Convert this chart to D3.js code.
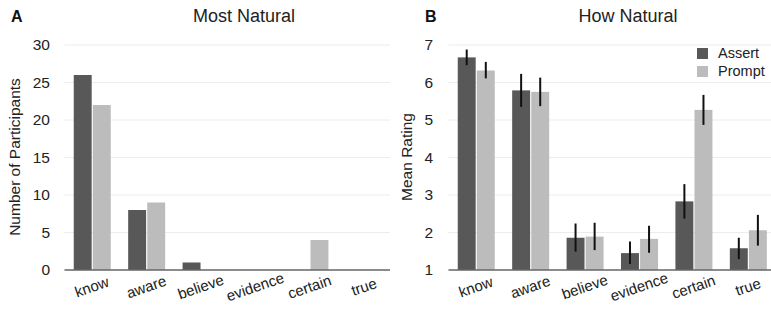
<!DOCTYPE html>
<html><head><meta charset="utf-8">
<script src="https://cdn.jsdelivr.net/npm/d3@7"></script>
<style>body{margin:0;background:#fff;} text{font-family:"Liberation Sans",Arial,sans-serif;}</style>
</head><body><svg id="c" width="771" height="322"></svg>
<script>
const categories = ["know","aware","believe","evidence","certain","true"];
const seriesNames = ["Assert","Prompt"];
// Panel A: number of participants choosing "most natural"
const countAssert = [26, 8, 1, 0, 0, 0];
const countPrompt = [22, 9, 0, 0, 4, 0];
// Panel B: mean rating with error bar bounds
const meanAssert = [6.67, 5.79, 1.86, 1.45, 2.83, 1.58];
const meanPrompt = [6.32, 5.75, 1.89, 1.83, 5.27, 2.06];
const errLoAssert = [6.46, 5.35, 1.49, 1.16, 2.37, 1.29];
const errHiAssert = [6.88, 6.23, 2.24, 1.76, 3.29, 1.86];
const errLoPrompt = [6.11, 5.37, 1.53, 1.46, 4.87, 1.65];
const errHiPrompt = [6.55, 6.13, 2.26, 2.18, 5.67, 2.47];
const ticksA = [0,5,10,15,20,25,30];
const ticksB = [1,2,3,4,5,6,7];

const colors = {Assert:"#585858", Prompt:"#bcbcbc"};
const svg = d3.select("#c");

function panel(opt){
  const g = svg.append("g");
  const x = d3.scaleBand().domain(categories).range([opt.x0, opt.x0 + 6*54.6]).paddingInner(0.32).paddingOuter(0.17);
  const xs = d3.scaleBand().domain(seriesNames).range([0, x.bandwidth()]).paddingInner(0.06);
  const y = d3.scaleLinear().domain(opt.domain).range([270, 45]);
  // gridlines
  g.append("g").selectAll("line").data(opt.ticks.slice(1)).join("line")
    .attr("x1", opt.x0).attr("x2", opt.x1).attr("y1", d=>y(d)).attr("y2", d=>y(d))
    .attr("stroke","#ececec").attr("stroke-width",1);
  // y axis labels
  const ya = d3.axisLeft(y).tickValues(opt.ticks).tickSize(0).tickPadding(0).tickFormat(d3.format("d"));
  const yg = g.append("g").attr("transform",`translate(${opt.tickX},0)`).call(ya);
  yg.select(".domain").remove();
  yg.selectAll("text").attr("font-size",15.5).attr("fill","#222").attr("font-family","Liberation Sans, Arial, sans-serif");
  // bars
  const data = [];
  categories.forEach((c,i)=>{
    data.push({c, s:"Assert", v:opt.a[i], lo:opt.aLo?opt.aLo[i]:null, hi:opt.aHi?opt.aHi[i]:null});
    data.push({c, s:"Prompt", v:opt.p[i], lo:opt.pLo?opt.pLo[i]:null, hi:opt.pHi?opt.pHi[i]:null});
  });
  g.append("g").selectAll("rect").data(data.filter(d=>d.v>opt.domain[0])).join("rect")
    .attr("x", d=>x(d.c)+xs(d.s)).attr("width", xs.bandwidth())
    .attr("y", d=>y(d.v)).attr("height", d=>270-y(d.v))
    .attr("fill", d=>colors[d.s]);
  if(opt.aLo){
    g.append("g").selectAll("line").data(data).join("line")
      .attr("x1", d=>x(d.c)+xs(d.s)+xs.bandwidth()/2).attr("x2", d=>x(d.c)+xs(d.s)+xs.bandwidth()/2)
      .attr("y1", d=>y(d.lo)).attr("y2", d=>y(d.hi))
      .attr("stroke","#111").attr("stroke-width",2);
  }
  // x axis line
  g.append("line").attr("x1",opt.x0).attr("x2",opt.x1).attr("y1",270).attr("y2",270)
    .attr("stroke","#666").attr("stroke-width",1.6);
  // x tick labels
  const xa = d3.axisBottom(x).tickSize(0).tickPadding(0);
  const xg = g.append("g").attr("transform","translate(0,270)").call(xa);
  xg.select(".domain").remove();
  xg.selectAll("text").attr("font-size",15).attr("fill","#222")
    .attr("font-family","Liberation Sans, Arial, sans-serif")
    .attr("text-anchor","middle").attr("dy",null).attr("y",0)
    .attr("transform","translate(0,18) rotate(-19)").attr("dominant-baseline","middle");
  // y label
  g.append("text").attr("transform",`translate(${opt.labelX},157) rotate(-90)`)
    .attr("text-anchor","middle").attr("font-size",15.5).attr("fill","#222").text(opt.yLabel);
  // title
  g.append("text").attr("x",opt.titleX).attr("y",22).attr("text-anchor","middle")
    .attr("font-size",18).attr("fill","#222").text(opt.title);
  g.append("text").attr("x",opt.letterX).attr("y",22).attr("font-size",16)
    .attr("font-weight","bold").attr("fill","#111").text(opt.letter);
  return {x,y,g};
}

panel({x0:64.5, x1:390, domain:[0,30], ticks:ticksA, a:countAssert, p:countPrompt,
  tickX:50, labelX:20, yLabel:"Number of Participants", title:"Most Natural", titleX:244, letter:"A", letterX:11});
panel({x0:448.5, x1:771, domain:[1,7], ticks:ticksB, a:meanAssert, p:meanPrompt,
  aLo:errLoAssert, aHi:errHiAssert, pLo:errLoPrompt, pHi:errHiPrompt,
  tickX:433, labelX:412, yLabel:"Mean Rating", title:"How Natural", titleX:628, letter:"B", letterX:425});

// legend
const lg = svg.append("g").attr("transform","translate(697,48)");
seriesNames.forEach((s,i)=>{
  lg.append("rect").attr("x",0).attr("y",i*18).attr("width",11).attr("height",11).attr("fill",colors[s]);
  lg.append("text").attr("x",21).attr("y",i*18+6).attr("dominant-baseline","middle")
    .attr("font-size",14.5).attr("fill","#222").text(s);
});
</script></body></html>
